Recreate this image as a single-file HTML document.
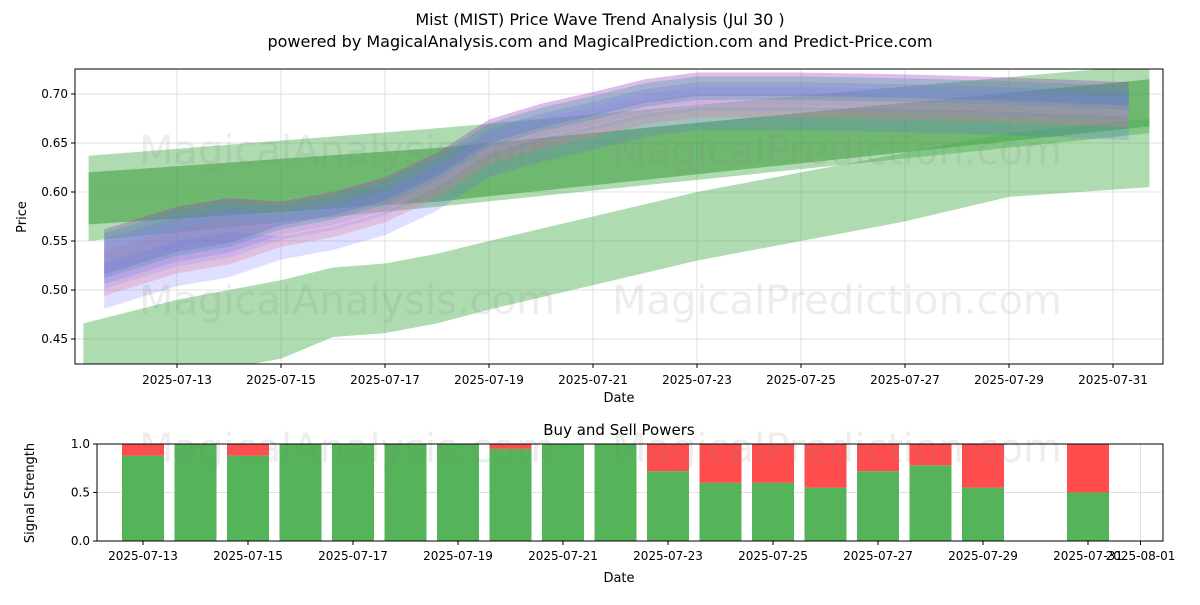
<!DOCTYPE html>
<html><head><meta charset="utf-8"><style>
body{margin:0;background:#fff;font-family:"Liberation Sans","DejaVu Sans",sans-serif}
svg text{font-family:"DejaVu Sans","Liberation Sans",sans-serif}
</style></head><body>
<svg id="chart" width="1200" height="600" xmlns="http://www.w3.org/2000/svg">
<rect width="1200" height="600" fill="#fff"/>
<text x="600" y="25" text-anchor="middle" font-size="16">Mist (MIST) Price Wave Trend Analysis (Jul 30 )</text>
<text x="600" y="47" text-anchor="middle" font-size="16">powered by MagicalAnalysis.com and MagicalPrediction.com and Predict-Price.com</text>
<g id="topPlot"></g>
<g id="botPlot"></g>
</svg>
<script>
// ---- price chart data (day of July) ----
const yTicks=[0.45,0.50,0.55,0.60,0.65,0.70];
const xTickDays=[13,15,17,19,21,23,25,27,29,31];
const lowBandDays=[11.2,13,15,16,17,18,19,21,23,25,27,29,31.7];
const lowBandUpper=[0.466,0.49,0.51,0.523,0.527,0.537,0.55,0.575,0.60,0.62,0.64,0.66,0.675];
const lowBandLower=[0.40,0.41,0.43,0.452,0.456,0.466,0.48,0.505,0.53,0.55,0.57,0.595,0.605];
const wideBandDays=[11.3,18,31.7];
const wideBandUpper=[0.637,0.665,0.73];
const wideBandLower=[0.55,0.585,0.66];
const darkBandDays=[11.3,18,31.7];
const darkBandUpper=[0.62,0.645,0.715];
const darkBandLower=[0.567,0.59,0.667];
const ensDays=[11.6,13,14,15,16,17,18,19,20,21,22,23,25,27,29,31.3];
const ensMid=[0.53,0.553,0.562,0.568,0.578,0.593,0.618,0.652,0.668,0.68,0.693,0.70,0.70,0.698,0.695,0.69];
const ensOffsets=[0,-0.012,0.01,-0.025,0.006,-0.005];
const ensColors=['#8080ff','#ff8080','#a040c0','#6060ff','#40a0a0','#8080ff'];
const ensOpac=[0.3,0.3,0.35,0.2,0.35,0.2];
// ---- signal data ----
const sigDays=[13,14,15,16,17,18,19,20,21,22,23,24,25,26,27,28,29,31];
const buyPower=[0.88,1,0.88,1,1,1,1,0.95,1,1,0.72,0.6,0.6,0.55,0.72,0.78,0.55,0.5];
const sigTicks=['2025-07-13','2025-07-15','2025-07-17','2025-07-19','2025-07-21','2025-07-23','2025-07-25','2025-07-27','2025-07-29','2025-07-31','2025-08-01'];
const sigTickDays=[13,15,17,19,21,23,25,27,29,31,32];

const NS='http://www.w3.org/2000/svg';
function mk(p,t,a){const e=document.createElementNS(NS,t);for(const k in a)e.setAttribute(k,a[k]);p.appendChild(e);return e;}
const topG=document.getElementById('topPlot'),botG=document.getElementById('botPlot');
const X=d=>177+(d-13)*52, Y=v=>94+(0.70-v)/0.05*49;
const L=75,R=1163,T=69,B=364;
const defs=mk(topG,'defs',{});const cp=mk(defs,'clipPath',{id:'c1'});mk(cp,'rect',{x:L,y:T,width:R-L,height:B-T});
yTicks.forEach(v=>{mk(topG,'line',{x1:L,x2:R,y1:Y(v),y2:Y(v),stroke:'#e0e0e0'});
 const t=mk(topG,'text',{x:L-7,y:Y(v)+4,'text-anchor':'end','font-size':12});t.textContent=v.toFixed(2);
 
 
 mk(topG,'line',{x1:L-4,x2:L,y1:Y(v),y2:Y(v),stroke:'#000'});});
xTickDays.forEach(d=>{mk(topG,'line',{x1:X(d),x2:X(d),y1:T,y2:B,stroke:'#e0e0e0'});
 mk(topG,'line',{x1:X(d),x2:X(d),y1:B,y2:B+4,stroke:'#000'});
 const t=mk(topG,'text',{x:X(d),y:B+20,'text-anchor':'middle','font-size':12});t.textContent='2025-07-'+d;
 
 });
const g=mk(topG,'g',{'clip-path':'url(#c1)'});
function band(days,up,lo,fill,op,name){
 let pts=days.map((d,i)=>X(d)+','+Y(up[i]));
 for(let i=days.length-1;i>=0;i--)pts.push(X(days[i])+','+Y(lo[i]));
 const p=mk(g,'polygon',{points:pts.join(' '),fill:fill,'fill-opacity':op});
 
 }
band(wideBandDays,wideBandUpper,wideBandLower,'#4caf50',0.45,'wide-green-band');
band(darkBandDays,darkBandUpper,darkBandLower,'#3a9a3a',0.55,'dark-green-band');
band(lowBandDays,lowBandUpper,lowBandLower,'#4caf50',0.45,'lower-green-band');
ensOffsets.forEach((o,k)=>{
 const up=ensMid.map((m,i)=>m+o+0.012+(i<3?0.01:0)), lo=ensMid.map((m,i)=>m+o-0.012-(i<3?0.012:0));
 band(ensDays,up,lo,ensColors[k],ensOpac[k],'ensemble-band');});
[['MagicalAnalysis.com',347,150],['MagicalPrediction.com',837,150],['MagicalAnalysis.com',347,300],['MagicalPrediction.com',837,300]].forEach(w=>{
 const t=mk(topG,'text',{x:w[1],y:w[2]+14,'text-anchor':'middle','font-size':40,fill:'#888','fill-opacity':0.15});t.textContent=w[0];
 
 });
mk(topG,'rect',{x:L,y:T,width:R-L,height:B-T,fill:'none',stroke:'#000'});
let tt=mk(topG,'text',{x:619,y:402,'text-anchor':'middle','font-size':13});tt.textContent='Date';
tt=mk(topG,'text',{x:26,y:217,'text-anchor':'middle','font-size':13,transform:'rotate(-90 26 217)'});tt.textContent='Price';

const X2=d=>143+(d-13)*52.5, Y2=v=>541-v*97;
const L2=97,R2=1163;
[0,0.5,1].forEach(v=>{mk(botG,'line',{x1:L2,x2:R2,y1:Y2(v),y2:Y2(v),stroke:'#e0e0e0'});
 mk(botG,'line',{x1:L2-4,x2:L2,y1:Y2(v),y2:Y2(v),stroke:'#000'});
 const t=mk(botG,'text',{x:L2-7,y:Y2(v)+4,'text-anchor':'end','font-size':12});t.textContent=v.toFixed(1);});
sigTickDays.forEach((d,i)=>{mk(botG,'line',{x1:X2(d),x2:X2(d),y1:444,y2:541,stroke:'#e0e0e0'});
 mk(botG,'line',{x1:X2(d),x2:X2(d),y1:541,y2:545,stroke:'#000'});
 const t=mk(botG,'text',{x:X2(d),y:560,'text-anchor':'middle','font-size':12});t.textContent=sigTicks[i];});
sigDays.forEach((d,i)=>{
 const b=mk(botG,'rect',{x:X2(d)-21,y:Y2(buyPower[i]),width:42,height:Y2(0)-Y2(buyPower[i]),fill:'#4caf50','fill-opacity':0.95});
 
 
 const s=mk(botG,'rect',{x:X2(d)-21,y:Y2(1),width:42,height:Y2(buyPower[i])-Y2(1),fill:'#ff4d4d'});
 
 });
[['MagicalAnalysis.com',347],['MagicalPrediction.com',837]].forEach(w=>{
 const t=mk(botG,'text',{x:w[1],y:462,'text-anchor':'middle','font-size':40,fill:'#888','fill-opacity':0.15});t.textContent=w[0];});
mk(botG,'rect',{x:L2,y:444,width:R2-L2,height:97,fill:'none',stroke:'#000'});
tt=mk(botG,'text',{x:619,y:435,'text-anchor':'middle','font-size':15});tt.textContent='Buy and Sell Powers';
tt=mk(botG,'text',{x:619,y:582,'text-anchor':'middle','font-size':13});tt.textContent='Date';
tt=mk(botG,'text',{x:34,y:493,'text-anchor':'middle','font-size':13,transform:'rotate(-90 34 493)'});tt.textContent='Signal Strength';
</script>
</body></html>
